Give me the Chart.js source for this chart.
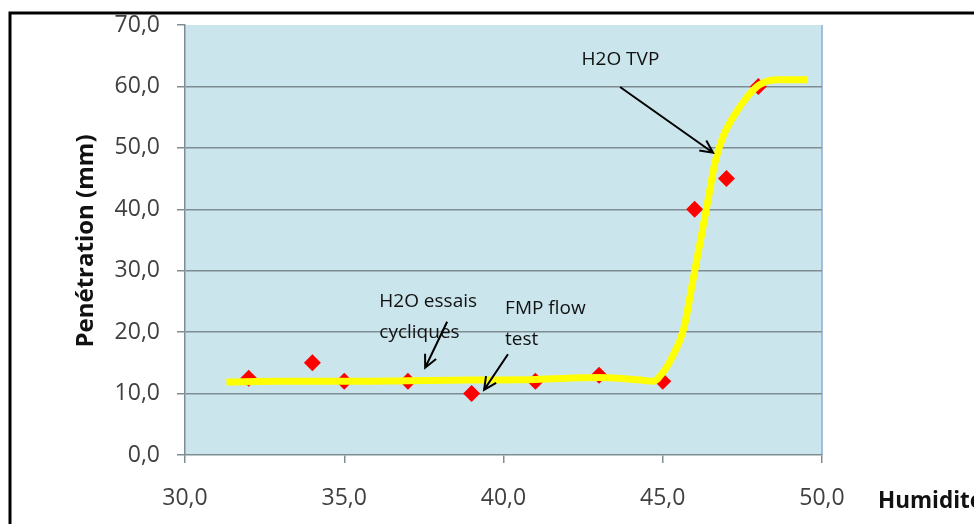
<!DOCTYPE html>
<html>
<head>
<meta charset="utf-8">
<script src="https://cdn.jsdelivr.net/npm/chart.js@4"></script>
<style>
  html, body { margin: 0; padding: 0; background: #fff; }
  #wrap { position: relative; width: 974px; height: 524px; }
</style>
</head>
<body>
<div id="wrap"><canvas id="chart"></canvas></div>
<script>
// measured points (red diamonds)
const humidity    = [32, 34, 35, 37, 39, 41, 43, 45, 46, 47, 48];
const penetration = [12.5, 15, 12, 12, 10, 12, 13, 12, 40, 45, 60];

// yellow trend curve
const curveX = [31.3, 33, 35, 37, 39, 41, 43, 44.3, 44.7, 45.0, 45.3, 45.65, 45.95, 46.23, 46.42, 46.64, 46.89, 47.21, 47.65, 48.05, 48.6, 49.55];
const curveY = [11.9, 12.0, 12.0, 12.1, 12.2, 12.3, 12.6, 12.2, 12.0, 13.4, 16.0, 20.4, 28.5, 36.2, 41.5, 47.6, 51.8, 55.0, 58.3, 60.3, 61.1, 61.1];

const yTicks = [0, 10, 20, 30, 40, 50, 60, 70];
const xTicks = [30, 35, 40, 45, 50];

// annotations: text lines and arrows, in data units
const notes = [
  { x: 42.45, y: 64.3, lines: ["H2O TVP"] },
  { x: 36.1, y: 24.9, lines: ["H2O essais", "cycliques"] },
  { x: 40.05, y: 23.8, lines: ["FMP flow", "test"] },
];
const arrows = [
  { from: [43.66, 59.9], to: [46.58, 49.2] },
  { from: [38.23, 21.7], to: [37.54, 14.2] },
  { from: [40.14, 16.4], to: [39.39, 10.6] },
];

const FONT = "'Open Sans', sans-serif";
const fmt = v => v.toFixed(1).replace(".", ",");

const decor = {
  id: "decor",
  beforeDraw(chart) {
    const { ctx, chartArea: a } = chart;
    ctx.save();
    ctx.fillStyle = "#cbe5ed";
    ctx.fillRect(a.left, a.top, a.right - a.left, a.bottom - a.top);
    ctx.strokeStyle = "#8fa9d8";
    ctx.lineWidth = 1.5;
    ctx.beginPath();
    ctx.moveTo(a.right, a.top);
    ctx.lineTo(a.right, a.bottom);
    ctx.stroke();
    ctx.restore();
  },
  afterDraw(chart) {
    const { ctx } = chart;
    const xs = chart.scales.x, ys = chart.scales.y;
    ctx.save();

    // annotation texts
    ctx.fillStyle = "#111";
    ctx.font = "19px " + FONT;
    ctx.textAlign = "left";
    ctx.textBaseline = "middle";
    notes.forEach(n => {
      const px = xs.getPixelForValue(n.x);
      let py = ys.getPixelForValue(n.y);
      n.lines.forEach(l => { ctx.fillText(l, px, py); py += 31; });
    });

    // arrows
    ctx.strokeStyle = "#000";
    ctx.lineWidth = 2;
    arrows.forEach(ar => {
      const x1 = xs.getPixelForValue(ar.from[0]), y1 = ys.getPixelForValue(ar.from[1]);
      const x2 = xs.getPixelForValue(ar.to[0]),   y2 = ys.getPixelForValue(ar.to[1]);
      const ang = Math.atan2(y2 - y1, x2 - x1);
      const h = 14, spread = 0.45;
      ctx.beginPath();
      ctx.moveTo(x1, y1);
      ctx.lineTo(x2, y2);
      ctx.moveTo(x2 - h * Math.cos(ang - spread), y2 - h * Math.sin(ang - spread));
      ctx.lineTo(x2, y2);
      ctx.lineTo(x2 - h * Math.cos(ang + spread), y2 - h * Math.sin(ang + spread));
      ctx.stroke();
    });

    // axis titles
    ctx.fillStyle = "#111";
    ctx.font = "bold 24px " + FONT;
    ctx.textAlign = "center";
    ctx.save();
    ctx.translate(86, 241);
    ctx.rotate(-Math.PI / 2);
    ctx.fillText("Penétration (mm)", 0, 0);
    ctx.restore();
    ctx.textAlign = "left";
    ctx.font = "bold 22.5px " + FONT;
    ctx.fillText("Humidité (%)", 878, 502);

    // outer frame
    ctx.strokeStyle = "#000";
    ctx.lineWidth = 3;
    ctx.beginPath();
    ctx.moveTo(10, 524);
    ctx.lineTo(10, 13);
    ctx.lineTo(974, 13);
    ctx.stroke();
    ctx.restore();
  }
};

new Chart(document.getElementById("chart"), {
  type: "scatter",
  data: {
    datasets: [
      {
        type: "line",
        label: "tendance",
        data: curveX.map((x, i) => ({ x, y: curveY[i] })),
        borderColor: "#ffff00",
        borderWidth: 7,
        pointRadius: 0,
        cubicInterpolationMode: "monotone",
        fill: false,
        order: 0,
      },
      {
        label: "Penétration",
        data: humidity.map((x, i) => ({ x, y: penetration[i] })),
        pointStyle: "rectRot",
        pointRadius: 8.5,
        backgroundColor: "#ff0000",
        borderColor: "#ff0000",
        borderWidth: 0,
        order: 1,
      },
    ],
  },
  options: {
    responsive: true,
    maintainAspectRatio: false,
    animation: false,
    layout: { padding: { left: 0, right: 152, top: 25, bottom: 0 } },
    plugins: { legend: { display: false }, tooltip: { enabled: false } },
    scales: {
      x: {
        type: "linear",
        min: 30, max: 50,
        afterBuildTicks: s => { s.ticks = xTicks.map(v => ({ value: v })); },
        afterFit: s => { s.height = 69; },
        border: { display: true, color: "#7f8d92", width: 1.5 },
        grid: { drawOnChartArea: false, drawTicks: true, tickLength: 8, tickColor: "#7f8d92", lineWidth: 1.5 },
        ticks: { color: "#404040", font: { family: FONT, size: 23 }, padding: 22, callback: fmt },
      },
      y: {
        min: 0, max: 70,
        afterBuildTicks: s => { s.ticks = yTicks.map(v => ({ value: v })); },
        afterFit: s => { s.width = 185; s.paddingTop = 0; s.paddingBottom = 0; },
        border: { display: true, color: "#7f8d92", width: 1.5 },
        grid: {
          color: c => (c.tick && (c.tick.value === 70 || c.tick.value === 0)) ? "rgba(0,0,0,0)" : "#7f8d92",
          lineWidth: 1.5,
          tickLength: 8,
          tickColor: "#7f8d92",
        },
        ticks: { color: "#404040", font: { family: FONT, size: 23 }, padding: 17, callback: fmt },
      },
    },
  },
  plugins: [decor],
});
</script>
</body>
</html>
